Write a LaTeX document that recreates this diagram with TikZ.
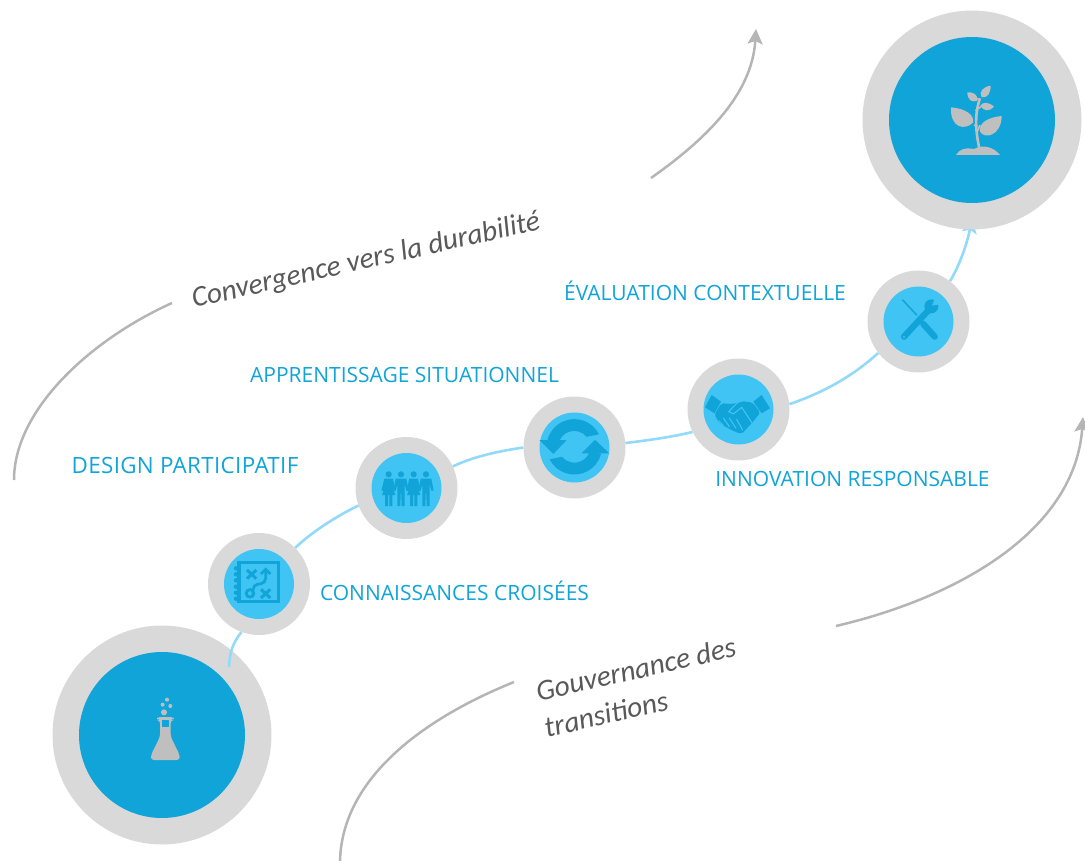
\documentclass[tikz,border=0pt]{standalone}
\usepackage{fontspec}
\setmainfont{Open Sans}
\newfontfamily\notefont{Carlito}
\usetikzlibrary{arrows.meta,backgrounds}
\definecolor{ringgray}{HTML}{D9D9D9}
\definecolor{deepblue}{HTML}{10A4D8}
\definecolor{skyblue}{HTML}{40C4F3}
\definecolor{linkblue}{HTML}{93D9FA}
\definecolor{arcgray}{HTML}{B5B5B5}
\definecolor{notegray}{HTML}{595959}
\definecolor{icongray}{HTML}{BFBFBF}
\tikzset{
  bigring/.style={circle,fill=ringgray,minimum size=219pt,inner sep=0pt},
  bigdisc/.style={circle,fill=deepblue,minimum size=166pt,inner sep=0pt},
  midring/.style={circle,fill=ringgray,minimum size=102pt,inner sep=0pt},
  middisc/.style={circle,fill=skyblue,minimum size=70pt,inner sep=0pt},
  link/.style={draw=linkblue,line width=2.6pt},
  sweep/.style={draw=arcgray,line width=2.5pt},
  sweeparrow/.style={sweep,-{Stealth[length=15pt,width=15pt,inset=3pt]}},
  steplabel/.style={text=deepblue,font=\fontsize{21}{24}\selectfont,inner sep=0pt,anchor=base},
  note/.style={text=notegray,font=\notefont\itshape\fontsize{29.3}{37}\selectfont,rotate=12.8,align=left,inner sep=0pt},
  zoomed/.style={x=0.33333pt,y=-0.33333pt},
}
\begin{document}
\begin{tikzpicture}[x=1pt,y=-1pt]
\useasboundingbox (0,0) rectangle (1085,861);
% rings
\node[bigring] (startring) at (162,735) {};
\node[bigdisc] (startdisc) at (162,735) {};
\node[bigring] (endring) at (972,120) {};
\node[bigdisc] (enddisc) at (972,120) {};
\node[midring] (r1) at (259,584) {}; \node[middisc] (d1) at (259,584) {};
\node[midring] (r2) at (406.5,488) {}; \node[middisc] (d2) at (406.5,488) {};
\node[midring] (r3) at (574.5,447.5) {}; \node[middisc] (d3) at (574.5,447.5) {};
\node[midring] (r4) at (738.5,409.5) {}; \node[middisc] (d4) at (738.5,409.5) {};
\node[midring] (r5) at (918.5,321.5) {}; \node[middisc] (d5) at (918.5,321.5) {};
% links
\coordinate (linkstart) at (229,667);
\coordinate (linkend) at (972,220);
\draw[link] (linkstart) .. controls (229.5,655) and (232,643) .. (r1.250);
\draw[link] (r1.45) .. controls (312,532) and (335,517) .. (r2.200);
\draw[link] (r2.25) .. controls (475,456) and (500,451) .. (r3.180);
\draw[link] (r3.5) .. controls (650,440) and (672,437) .. (r4.206);
\draw[link] (r4.6) .. controls (822,393) and (852,377) .. (r5.218);
\begin{scope}[on background layer]
\draw[link,-{Stealth[length=13pt,width=15pt,inset=3pt]}] (r5.52) .. controls (958,268) and (966,248) .. (linkend);
\end{scope}
% sweeping arcs
\coordinate (a1s) at (14,480); \coordinate (a1e) at (172,303);
\coordinate (a2s) at (651,178); \coordinate (a2e) at (756,29);
\coordinate (a3s) at (340,861); \coordinate (a3e) at (514,682);
\coordinate (a4s) at (836,626); \coordinate (a4e) at (1083,417);
\draw[sweep] (a1s) .. controls (14,410) and (90,340) .. (a1e);
\draw[sweeparrow] (a2s) .. controls (705,140) and (752,95) .. (a2e);
\draw[sweep] (a3s) .. controls (342,780) and (420,720) .. (a3e);
\draw[sweeparrow] (a4s) .. controls (960,597) and (1075,530) .. (a4e);
% labels
\node[steplabel,font=\fontsize{22.4}{24}\selectfont] (l1) at (185,473.5) {\addfontfeature{LetterSpace=1.5}DESIGN PARTICIPATIF};
\node[steplabel] (l2) at (454.5,600.5) {CONNAISSANCES CROISÉES};
\node[steplabel] (l3) at (404.5,382) {APPRENTISSAGE SITUATIONNEL};
\node[steplabel] (l4) at (705,300.5) {ÉVALUATION CONTEXTUELLE};
\node[steplabel] (l5) at (852.5,486) {INNOVATION RESPONSABLE};
\node[note] (n1) at (366,261) {Convergence vers la durabilité};
\node[note] (n2) at (640,687) {Gouvernance des\\transitions};
% flask
\begin{scope}[shift={(110,680)},zoomed]
\fill[icongray,rounded corners=3pt] (141,111) -- (191,111) -- (191,120) -- (182,120) -- (182,170) -- (209,225) -- (209,240) -- (123,240) -- (123,225) -- (150,170) -- (150,120) -- (141,120) -- cycle;
\fill[deepblue] (157,120) rectangle (176,140);
\fill[icongray] (162,97) circle[radius=3pt] (158,74) circle[radius=2pt] (181,78) circle[radius=2pt] (171,59) circle[radius=2pt];
\end{scope}
% plant
\begin{scope}[shift={(900,60)},zoomed]
\fill[icongray] (168,285) .. controls (178,268) and (195,262) .. (222,267) .. controls (250,252) and (282,262) .. (300,285) -- cycle;
\draw[icongray,line width=2.6pt] (238,265) .. controls (228,220) and (222,165) .. (240,115);
\draw[icongray,line width=1.5pt] (222,195) -- (232,200) (240,195) -- (232,215) (226,152) -- (250,135) (238,118) -- (225,115);
\fill[icongray] (153,142) .. controls (195,145) and (225,165) .. (219,188) .. controls (195,212) and (150,205) .. (153,142) -- cycle;
\fill[icongray] (305,168) .. controls (262,172) and (235,190) .. (240,215) .. controls (255,240) and (305,225) .. (305,168) -- cycle;
\fill[icongray] (272,77) .. controls (250,80) and (235,95) .. (245,112) .. controls (262,115) and (272,100) .. (272,77) -- cycle;
\fill[icongray] (202,97) .. controls (220,95) and (235,105) .. (232,122) .. controls (215,130) and (202,118) .. (202,97) -- cycle;
\fill[icongray] (282,140) .. controls (265,125) and (248,125) .. (241,137) .. controls (250,155) and (270,155) .. (282,140) -- cycle;
\end{scope}
% notebook map
\begin{scope}[shift={(225,550)},zoomed]
\draw[deepblue,line width=3.3pt] (42,37) rectangle (160,155);
\foreach \yy in {55,73,91,110,128,146} \fill[deepblue] (33,\yy) circle[radius=2.2pt];
\draw[deepblue,line width=3pt] (66,60) -- (94,86) (94,60) -- (66,86);
\draw[deepblue,line width=3pt] (108,118) -- (136,144) (136,118) -- (108,144);
\draw[deepblue,line width=2.8pt] (75,130) circle[radius=3.8pt];
\draw[deepblue,line width=2.8pt,rounded corners=5pt] (84,118) -- (84,104) -- (122,100) -- (122,60);
\draw[deepblue,line width=2.8pt] (108,72) -- (122,58) -- (136,72);
\end{scope}
% people
\begin{scope}[shift={(200,430)},zoomed]
\foreach \xx in {566,641} {
  \fill[deepblue] (\xx,133) circle[radius=3.1pt];
  \fill[deepblue] (\xx-13,146) -- (\xx+13,146) -- (\xx+20,182) -- (\xx+14,182) -- (\xx+10,165) -- (\xx+20,195) -- (\xx+11,195) -- (\xx+11,228) -- (\xx+2,228) -- (\xx+2,195) -- (\xx-2,195) -- (\xx-2,228) -- (\xx-11,228) -- (\xx-11,195) -- (\xx-20,195) -- (\xx-10,165) -- (\xx-14,182) -- (\xx-22,182) -- cycle;
}
\foreach \xx in {603,678} {
  \fill[deepblue] (\xx,133) circle[radius=3.1pt];
  \fill[deepblue] (\xx-16,146) -- (\xx+16,146) -- (\xx+23,182) -- (\xx+16,182) -- (\xx+11,162) -- (\xx+11,228) -- (\xx+2,228) -- (\xx+1,190) -- (\xx-1,190) -- (\xx-2,228) -- (\xx-11,228) -- (\xx-11,162) -- (\xx-16,182) -- (\xx-23,182) -- cycle;
}
\end{scope}
% refresh
\begin{scope}[shift={(574.3,446.8)},x=1pt,y=1pt]
\fill[deepblue] (27:27.7) arc[start angle=27,end angle=165,radius=27.7] -- (-15.5,4) arc[start angle=165,end angle=39,radius=16] -- cycle;
\fill[deepblue] (207:27.7) arc[start angle=207,end angle=345,radius=27.7] -- (15.5,-4) arc[start angle=345,end angle=219,radius=16] -- cycle;
\fill[deepblue] (-35,6.8) -- (-7.6,6.8) -- (-21,-7.2) -- cycle;
\fill[deepblue] (35,-6.5) -- (7.4,-6.5) -- (20.7,7) -- cycle;
\end{scope}
% handshake
\begin{scope}[shift={(520,260)},zoomed]
\fill[deepblue] (575,405) -- (603,425) -- (583,460) -- (555,442) -- cycle;
\fill[deepblue] (725,405) -- (750,445) -- (725,460) -- (700,425) -- cycle;
\fill[deepblue,rounded corners=2pt] (604,430) -- (640,432) -- (665,423) -- (698,428) -- (721,458) -- (695,490) -- (665,522) -- (645,515) -- (625,505) -- (598,490) -- (583,463) -- cycle;
\draw[skyblue,line width=1.1pt,line join=round] (697,490) -- (665,442) -- (640,462) -- (626,455) -- (652,428) -- (668,422);
\draw[skyblue,line width=1.1pt,line cap=round] (596,482) -- (610,497) (610,474) -- (628,500) (628,474) -- (648,505) (650,478) -- (668,510);
\end{scope}
% tools
\begin{scope}[shift={(890,220)},zoomed]
\draw[deepblue,line width=1.5pt,line cap=round] (38,240) -- (80,285);
\draw[deepblue,line width=6.3pt,line cap=round] (100,312) -- (134,350);
\draw[deepblue,line width=6.3pt,line cap=round] (42,350) -- (118,268);
\fill[deepblue] (124,259) circle[radius=7pt];
\fill[skyblue] (126,257) -- (136,232) -- (155,240) -- (150,253) -- cycle;
\fill[skyblue] (42,351) circle[radius=1.1pt];
\end{scope}
\end{tikzpicture}
\end{document}
